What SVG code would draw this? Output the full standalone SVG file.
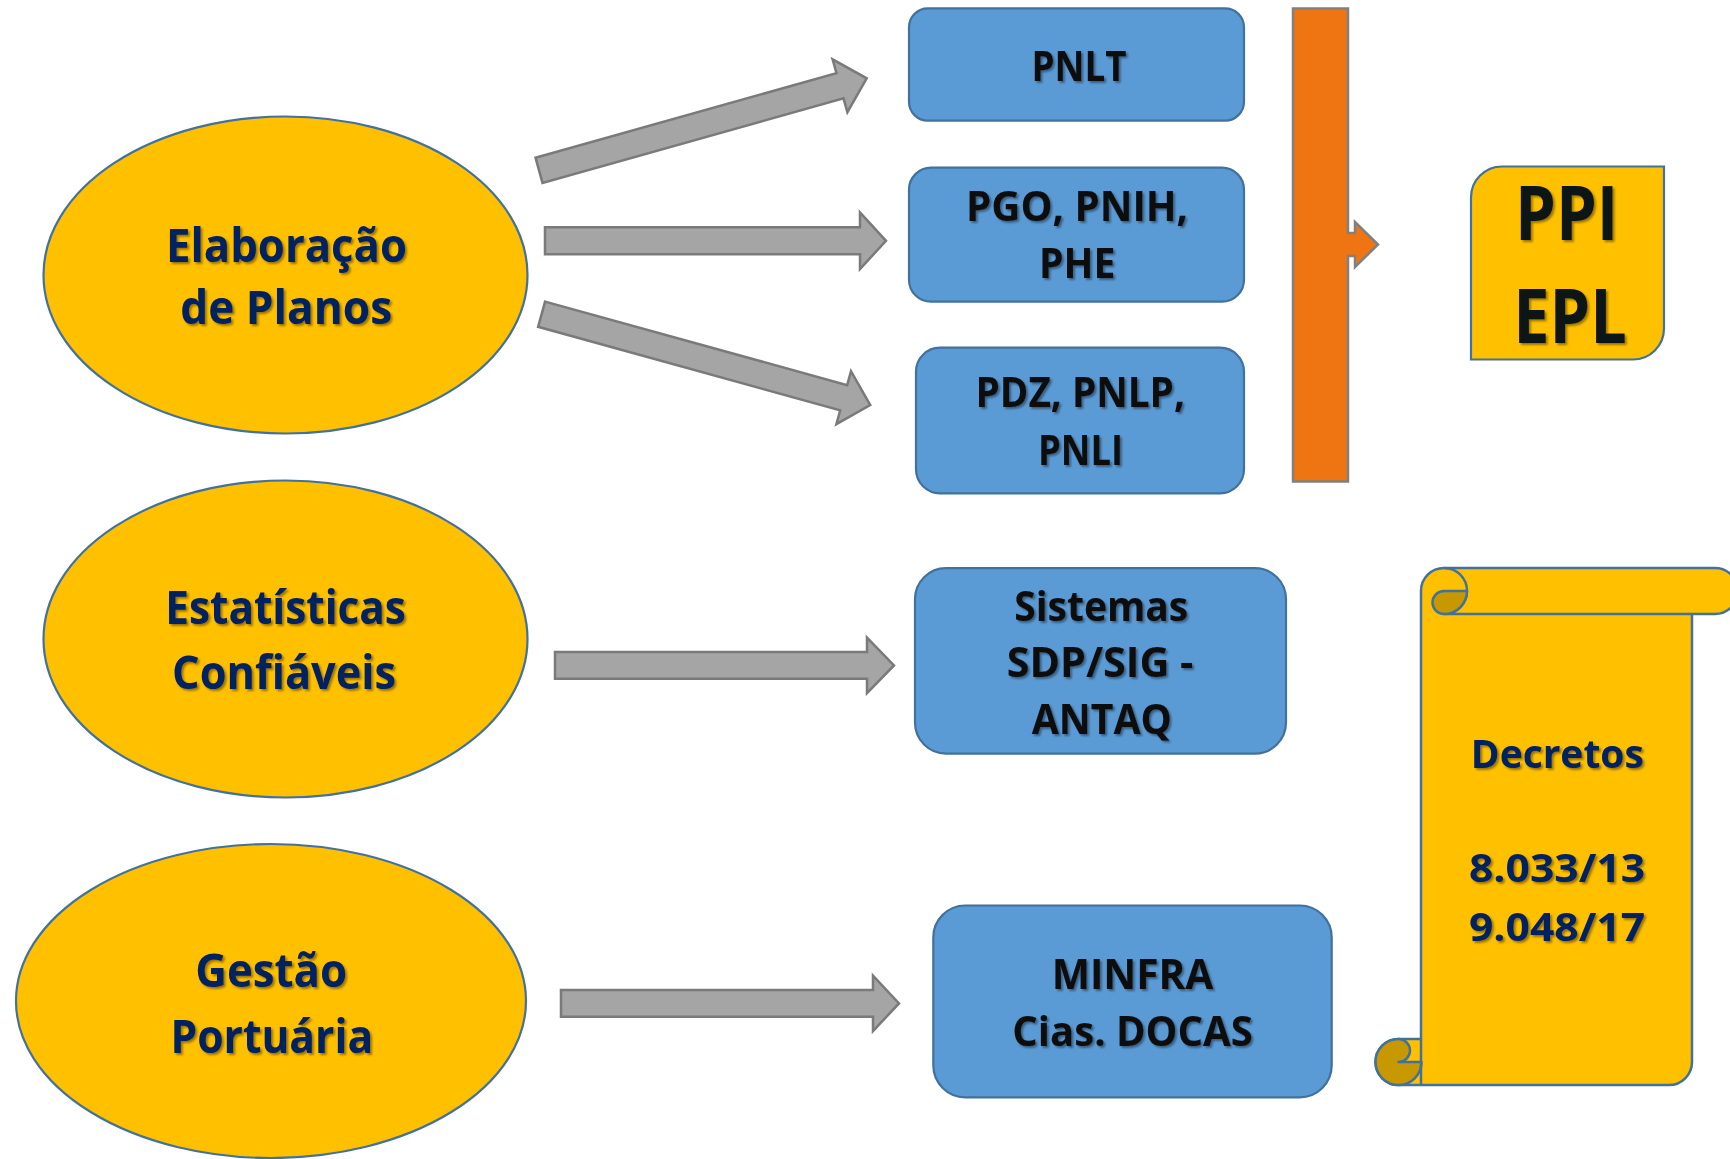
<svg xmlns="http://www.w3.org/2000/svg" width="1730" height="1159" viewBox="0 0 1730 1159">
<defs>
<style>
.ell{fill:#FFC000;stroke:#41719C;stroke-width:2.2}
.box{fill:#5B9BD5;stroke:#41719C;stroke-width:2.2}
.arr{fill:#A5A5A5;stroke:#7A7A7A;stroke-width:2.5;stroke-linejoin:miter}
.bar{fill:#EF7512;stroke:#808080;stroke-width:2.5}
.gold{fill:#FFC000;stroke:#41719C;stroke-width:2.5;stroke-linejoin:round}
.dark{fill:#C89800;stroke:#41719C;stroke-width:2.5;stroke-linejoin:round}
.ln{fill:none;stroke:#41719C;stroke-width:2.5}
text{font-family:"Open Sans","Liberation Sans",sans-serif;font-weight:700;text-anchor:middle}
.navy{fill:#002060;font-size:46px}
.blk{fill:#0D0D0D;font-size:41px}
.big{fill:#111419;font-size:76px}
.dec{fill:#002060;font-size:40px}
.sh{filter:url(#shadow)}
</style>
<filter id="shadow" x="-10%" y="-20%" width="130%" height="150%">
<feDropShadow dx="2" dy="2" stdDeviation="1.3" flood-color="#000" flood-opacity="0.4"/>
</filter>
</defs>

<g id="connectors">
<polygon class="arr" points="535.5,157.7 836.5,73.2 832.6,59.4 866.7,78.3 847.4,112.2 843.5,98.4 542.5,182.9"/>
<polygon class="arr" points="545,227.3 860,227.3 860,212.5 886,240.8 860,269 860,254.3 545,254.3"/>
<polygon class="arr" points="545.1,301.6 847.2,385.1 851,371.2 870.2,405 836.4,424.2 840.2,410.3 538.1,326.8"/>
<polygon class="arr" points="555,652 867,652 867,637.6 894,665.4 867,693.2 867,678.8 555,678.8"/>
<polygon class="arr" points="561,990 873,990 873,975.7 899,1003.4 873,1031.1 873,1016.8 561,1016.8"/>
<polygon id="bracket-arrow" class="bar" points="1293,8.5 1348,8.5 1348,233 1355,233 1355,222 1378,244.5 1355,267 1355,256 1348,256 1348,481.5 1293,481.5"/>
</g>

<g id="elaboracao">
<ellipse class="ell" cx="285.5" cy="275" rx="242" ry="158.5"/>
<g class="sh">
<text class="navy" x="286.5" y="262" textLength="241" lengthAdjust="spacingAndGlyphs">Elaboração</text>
<text class="navy" x="286.2" y="324" textLength="212" lengthAdjust="spacingAndGlyphs">de Planos</text>
</g>
</g>

<g id="estatisticas">
<ellipse class="ell" cx="285.5" cy="639" rx="242" ry="158.5"/>
<g class="sh">
<text class="navy" x="285.6" y="624.3" textLength="240.6" lengthAdjust="spacingAndGlyphs">Estatísticas</text>
<text class="navy" x="284.1" y="689" textLength="224" lengthAdjust="spacingAndGlyphs">Confiáveis</text>
</g>
</g>

<g id="gestao">
<ellipse class="ell" cx="271" cy="1001" rx="255" ry="157"/>
<g class="sh">
<text class="navy" x="271.2" y="987.4" textLength="152" lengthAdjust="spacingAndGlyphs">Gestão</text>
<text class="navy" x="271.8" y="1052.7" textLength="202.6" lengthAdjust="spacingAndGlyphs">Portuária</text>
</g>
</g>

<g id="pnlt">
<rect class="box" x="909" y="8.3" width="335" height="112.4" rx="19" ry="19"/>
<text class="blk sh" x="1079" y="81" textLength="95" lengthAdjust="spacingAndGlyphs">PNLT</text>
</g>

<g id="pgo">
<rect class="box" x="909" y="167.7" width="335" height="134" rx="22" ry="22"/>
<g class="sh">
<text class="blk" x="1077" y="220.7" textLength="222" lengthAdjust="spacingAndGlyphs">PGO, PNIH,</text>
<text class="blk" x="1077.2" y="278.3" textLength="76.4" lengthAdjust="spacingAndGlyphs">PHE</text>
</g>
</g>

<g id="pdz">
<rect class="box" x="916" y="347.7" width="328" height="145.6" rx="24" ry="24"/>
<g class="sh">
<text class="blk" x="1080.2" y="406.7" textLength="209.6" lengthAdjust="spacingAndGlyphs">PDZ, PNLP,</text>
<text class="blk" x="1080.5" y="465" textLength="85" lengthAdjust="spacingAndGlyphs">PNLI</text>
</g>
</g>

<g id="sistemas">
<rect class="box" x="915" y="568.2" width="371" height="185.4" rx="31" ry="31"/>
<g class="sh">
<text class="blk" x="1101.2" y="620.7" font-size="42" textLength="174" lengthAdjust="spacingAndGlyphs">Sistemas</text>
<text class="blk" x="1100" y="677" font-size="42" textLength="186.7" lengthAdjust="spacingAndGlyphs">SDP/SIG -</text>
<text class="blk" x="1101.7" y="733.7" font-size="42" textLength="140" lengthAdjust="spacingAndGlyphs">ANTAQ</text>
</g>
</g>

<g id="minfra">
<rect class="box" x="933.3" y="905.5" width="398.4" height="191.8" rx="32" ry="32"/>
<g class="sh">
<text class="blk" x="1132.5" y="988.8" font-size="42" textLength="161.7" lengthAdjust="spacingAndGlyphs">MINFRA</text>
<text class="blk" x="1132.5" y="1046" font-size="42" textLength="240.4" lengthAdjust="spacingAndGlyphs">Cias. DOCAS</text>
</g>
</g>

<g id="ppi-epl">
<path class="ell" d="M1471,359.5 L1471,197.5 A31,31 0 0 1 1502,166.5 L1664,166.5 L1664,328.5 A31,31 0 0 1 1633,359.5 Z"/>
<g class="sh">
<text class="big" x="1566.7" y="240" textLength="103.3" lengthAdjust="spacingAndGlyphs">PPI</text>
<text class="big" x="1570" y="343.3" textLength="113.4" lengthAdjust="spacingAndGlyphs">EPL</text>
</g>
</g>

<g id="decretos">
<path class="gold" d="M1398.5,1085 A23,23 0 0 1 1398.5,1039 L1421,1039 L1421,591 A23,23 0 0 1 1444,568 L1715,568 A23,23 0 0 1 1715,614 L1692,614 L1692,1062 A23,23 0 0 1 1669,1085 Z"/>
<path class="ln" d="M1444,568 A23,23 0 0 1 1467,591 A23,23 0 0 1 1444,614 L1692,614"/>
<path class="dark" d="M1444,591 L1467,591 A23,23 0 0 1 1444,614 A11.5,11.5 0 0 1 1444,591 Z"/>
<path class="dark" d="M1398.5,1062 A11.5,11.5 0 0 0 1398.5,1039 A23,23 0 1 0 1421.5,1062 Z"/>
<path class="ln" d="M1421,1039 L1421,1085"/>
<g class="sh">
<text class="dec" x="1557.3" y="767.5" textLength="173" lengthAdjust="spacingAndGlyphs">Decretos</text>
<text class="dec" x="1557" y="881.6" textLength="176" lengthAdjust="spacingAndGlyphs">8.033/13</text>
<text class="dec" x="1557" y="940.5" textLength="176" lengthAdjust="spacingAndGlyphs">9.048/17</text>
</g>
</g>
</svg>
